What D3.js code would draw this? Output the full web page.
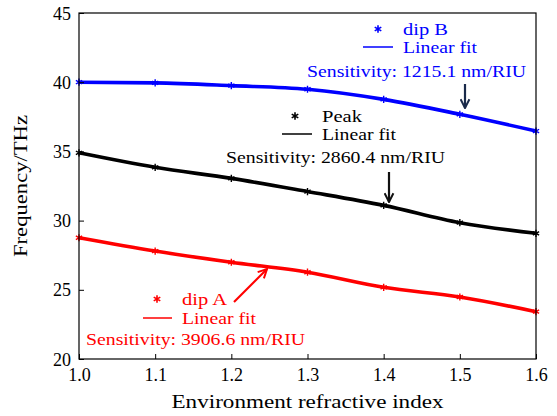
<!DOCTYPE html>
<html>
<head>
<meta charset="utf-8">
<script src="https://cdn.jsdelivr.net/npm/d3@7"></script>
<style>
  body { margin: 0; background: #fff; }
  text { font-family: "Liberation Serif", "DejaVu Serif", serif; }
</style>
</head>
<body>
<svg id="chart" width="557" height="416"></svg>
<script>
// refractive index values
var nIndex = [1.0, 1.1, 1.2, 1.3, 1.4, 1.5, 1.6];
var dipB = [40.0, 39.95, 39.75, 39.49, 38.76, 37.68, 36.47];
var peak = [34.9, 33.85, 33.05, 32.1, 31.1, 29.85, 29.08];
var dipA = [28.76, 27.8, 26.99, 26.27, 25.18, 24.48, 23.42];
var xTicks = [1.0, 1.1, 1.2, 1.3, 1.4, 1.5, 1.6];
var yTicks = [20, 25, 30, 35, 40, 45];

var W = 557, H = 416;
var m = {left: 79, right: 21, top: 13, bottom: 57};

var svg = d3.select('#chart');
var x = d3.scaleLinear().domain([1.0, 1.6]).range([m.left, W - m.right]);
var y = d3.scaleLinear().domain([20, 45]).range([H - m.bottom, m.top]);

var series = [
  {name: 'dip B', vals: dipB, color: '#0000ff'},
  {name: 'Peak', vals: peak, color: '#000000'},
  {name: 'dip A', vals: dipA, color: '#ff0000'}
];

var line = d3.line()
  .x(function(d) { return x(d.n); })
  .y(function(d) { return y(d.v); })
  .curve(d3.curveMonotoneX);

var plot = svg.append('g');
series.forEach(function(s) {
  var pts = nIndex.map(function(n, i) { return {n: n, v: s.vals[i]}; });
  plot.append('path')
    .datum(pts)
    .attr('fill', 'none')
    .attr('stroke', s.color)
    .attr('stroke-width', 3.6)
    .attr('d', line);
  plot.selectAll(null)
    .data(pts)
    .enter()
    .append('path')
    .attr('d', d3.symbol().type(d3.symbolAsterisk).size(36))
    .attr('transform', function(d) { return 'translate(' + x(d.n) + ',' + y(d.v) + ')'; })
    .attr('stroke', s.color)
    .attr('stroke-width', 1.4)
    .attr('fill', 'none');
});

// axes, ticks inward
var xAxis = svg.append('g')
  .attr('transform', 'translate(0,' + (H - m.bottom) + ')')
  .call(d3.axisBottom(x).tickValues(xTicks).tickFormat(d3.format('.1f')).tickSizeInner(-5).tickSizeOuter(0).tickPadding(9));
var yAxis = svg.append('g')
  .attr('transform', 'translate(' + m.left + ',0)')
  .call(d3.axisLeft(y).tickValues(yTicks).tickSizeInner(-5).tickSizeOuter(0).tickPadding(8));
[xAxis, yAxis].forEach(function(a) {
  a.select('.domain').remove();
  a.selectAll('text').style('font-family', '"Liberation Serif", serif').style('font-size', '18px').attr('fill', '#000');
  a.selectAll('line').attr('stroke', '#000');
});
xAxis.selectAll('text').attr('dy', '0.71em');
yAxis.selectAll('text').attr('dy', '0.34em');

svg.append('rect')
  .attr('x', m.left).attr('y', m.top)
  .attr('width', W - m.left - m.right).attr('height', H - m.top - m.bottom)
  .attr('fill', 'none').attr('stroke', '#000').attr('stroke-width', 1.2);

svg.append('text')
  .attr('x', (m.left + W - m.right) / 2).attr('y', 408)
  .attr('text-anchor', 'middle').style('font-size', '19px')
  .attr('textLength', 272).attr('lengthAdjust', 'spacingAndGlyphs')
  .text('Environment refractive index');
svg.append('text')
  .attr('transform', 'translate(27,' + ((m.top + H - m.bottom) / 2) + ') rotate(-90)')
  .attr('text-anchor', 'middle').style('font-size', '19px')
  .attr('textLength', 142).attr('lengthAdjust', 'spacingAndGlyphs')
  .text('Frequency/THz');

// legends + annotations
var notes = [
  {color: '#0000ff', mx: 378, my: 29, name: 'dip B', nw: 45, lx1: 363, lx2: 393, ly: 47, tx: 403, sx: 307, sy: 77, sens: '1215.1'},
  {color: '#000000', mx: 295, my: 116, name: 'Peak', nw: 40, lx1: 282, lx2: 312, ly: 134, tx: 322, sx: 226, sy: 163, sens: '2860.4'},
  {color: '#ff0000', mx: 157, my: 299, name: 'dip A', nw: 45, lx1: 143, lx2: 172, ly: 318, tx: 182, sx: 86, sy: 345, sens: '3906.6'}
];
notes.forEach(function(d) {
  svg.append('path')
    .attr('d', d3.symbol().type(d3.symbolAsterisk).size(40))
    .attr('transform', 'translate(' + d.mx + ',' + d.my + ')')
    .attr('stroke', d.color).attr('stroke-width', 1.6);
  svg.append('text').attr('x', d.tx).attr('y', d.my + 6).attr('fill', d.color)
    .style('font-size', '17px')
    .attr('textLength', d.nw).attr('lengthAdjust', 'spacingAndGlyphs')
    .text(d.name);
  svg.append('line').attr('x1', d.lx1).attr('x2', d.lx2).attr('y1', d.ly).attr('y2', d.ly)
    .attr('stroke', d.color).attr('stroke-width', 1.5);
  svg.append('text').attr('x', d.tx).attr('y', d.ly + 6).attr('fill', d.color)
    .style('font-size', '17px')
    .attr('textLength', 74).attr('lengthAdjust', 'spacingAndGlyphs')
    .text('Linear fit');
  svg.append('text').attr('x', d.sx).attr('y', d.sy).attr('fill', d.color)
    .style('font-size', '16px')
    .attr('textLength', 219).attr('lengthAdjust', 'spacingAndGlyphs')
    .text('Sensitivity: ' + d.sens + ' nm/RIU');
});

// arrows
var defs = svg.append('defs');
[['ahNavy', '#1a2a4a'], ['ahBlack', '#111'], ['ahRed', '#ff0000']].forEach(function(a) {
  defs.append('marker').attr('id', a[0]).attr('viewBox', '0 0 10 10')
    .attr('refX', 9).attr('refY', 5).attr('markerWidth', 5).attr('markerHeight', 5)
    .attr('orient', 'auto')
    .append('path').attr('d', 'M1,1 L9,5 L1,9').attr('fill', 'none')
    .attr('stroke', a[1]).attr('stroke-width', 1.8);
});
var arrows = [
  {x1: 465, y1: 84, x2: 465, y2: 108, c: '#1a2a4a', mk: 'ahNavy'},
  {x1: 389, y1: 172, x2: 389, y2: 202, c: '#111', mk: 'ahBlack'},
  {x1: 234, y1: 302, x2: 267, y2: 269, c: '#ff0000', mk: 'ahRed'}
];
arrows.forEach(function(a) {
  svg.append('line').attr('x1', a.x1).attr('y1', a.y1).attr('x2', a.x2).attr('y2', a.y2)
    .attr('stroke', a.c).attr('stroke-width', 2.2)
    .attr('marker-end', 'url(#' + a.mk + ')');
});
</script>
</body>
</html>
